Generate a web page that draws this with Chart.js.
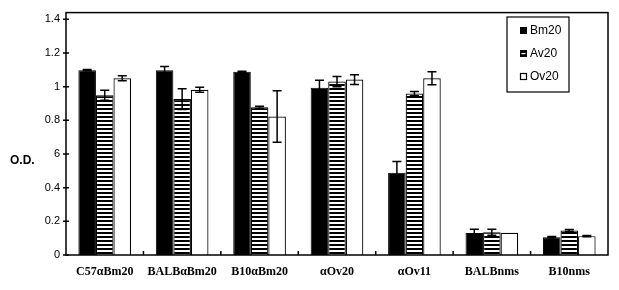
<!DOCTYPE html>
<html>
<head>
<meta charset="utf-8">
<script src="https://cdn.jsdelivr.net/npm/chart.js@4"></script>
<style>
  html, body { margin: 0; padding: 0; background: #fff; }
  #wrap { width: 619px; height: 290px; position: relative; }
</style>
</head>
<body>
<div id="wrap"><canvas id="odChart" width="619" height="290"></canvas></div>
<script>
// groups on the x axis
const groups = ['C57\u03b1Bm20', 'BALB\u03b1Bm20', 'B10\u03b1Bm20', '\u03b1Ov20', '\u03b1Ov11', 'BALBnms', 'B10nms'];

// O.D. means
const bm20 = [1.098, 1.098, 1.088, 0.994, 0.488, 0.130, 0.106];
const av20 = [0.949, 0.926, 0.877, 1.030, 0.959, 0.135, 0.145];
const ov20 = [1.050, 0.982, 0.823, 1.042, 1.050, 0.132, 0.112];

// error bar half-lengths
const errBm20 = [0.004, 0.022, 0.004, 0.044, 0.068, 0.023, 0.004];
const errAv20 = [0.030, 0.062, 0.007, 0.031, 0.013, 0.018, 0.006];
const errOv20 = [0.015, 0.015, 0.153, 0.029, 0.038, 0, 0.004];

// y ticks and their labels as printed (0.6 is only partly visible in the scan)
const yTickValues = [0, 0.2, 0.4, 0.6, 0.8, 1, 1.2, 1.4];
const yTickLabels = ['0', '0.2', '0.4', '6', '0.8', '1', '1.2', '1.4'];

function stripePattern() {
    /*
    horizontal black/white stripes for the Av20 bars
    */
    let c = document.createElement('canvas');
    c.width = 4; c.height = 4;
    let g = c.getContext('2d');
    g.fillStyle = '#fff';
    g.fillRect(0, 0, 4, 4);
    g.fillStyle = '#000';
    g.fillRect(0, 0, 4, 2);
    return g.createPattern(c, 'repeat');
}

const errors = [errBm20, errAv20, errOv20];

const errorBarPlugin = {
    id: 'errorBars',
    afterDatasetsDraw(chart) {
        const ctx = chart.ctx;
        const ys = chart.scales.y;
        ctx.save();
        ctx.strokeStyle = '#000';
        ctx.lineWidth = 1.5;
        chart.data.datasets.forEach((ds, i) => {
            const meta = chart.getDatasetMeta(i);
            meta.data.forEach((bar, j) => {
                const e = errors[i][j];
                if (!e) return;
                const v = ds.data[j];
                const top = ys.getPixelForValue(v + e);
                const bot = ys.getPixelForValue(v - e);
                ctx.beginPath();
                ctx.moveTo(bar.x, top); ctx.lineTo(bar.x, bot);
                ctx.moveTo(bar.x - 4.5, top); ctx.lineTo(bar.x + 4.5, top);
                ctx.moveTo(bar.x - 4.5, bot); ctx.lineTo(bar.x + 4.5, bot);
                ctx.stroke();
            });
        });
        ctx.restore();
    }
};

const framePlugin = {
    id: 'frame',
    afterDraw(chart) {
        /*
        box around plot, tick marks, O.D. label and the legend inside the plot
        */
        const ctx = chart.ctx;
        const a = chart.chartArea;
        const ys = chart.scales.y;
        const xs = chart.scales.x;
        ctx.save();
        ctx.strokeStyle = '#000';
        ctx.lineWidth = 1.5;
        ctx.strokeRect(a.left, a.top, a.right - a.left, a.bottom - a.top);

        // y ticks crossing the axis
        ctx.beginPath();
        yTickValues.forEach(v => {
            const y = ys.getPixelForValue(v);
            ctx.moveTo(a.left - 3, y); ctx.lineTo(a.left + 3, y);
        });
        // x ticks between groups, pointing up
        for (let k = 1; k < groups.length; k++) {
            const x = (xs.getPixelForValue(k - 1) + xs.getPixelForValue(k)) / 2;
            ctx.moveTo(x, a.bottom); ctx.lineTo(x, a.bottom - 4);
        }
        ctx.stroke();

        ctx.fillStyle = '#000';
        ctx.font = 'bold 12px "Liberation Sans", Arial, sans-serif';
        ctx.textBaseline = 'middle';
        ctx.textAlign = 'left';
        ctx.fillText('O.D.', 10, 161);

        // legend box
        ctx.lineWidth = 1.2;
        ctx.strokeRect(507, 17, 62, 75);
        ctx.font = '12px "Liberation Sans", Arial, sans-serif';
        const rowsY = [30, 53, 76];
        chart.data.datasets.forEach((ds, i) => {
            const y = rowsY[i];
            if (i === 0) {
                ctx.fillRect(520, y - 3, 7, 7);
            } else if (i === 1) {
                ctx.fillRect(520, y - 3, 7, 7);
                ctx.fillStyle = '#fff';
                ctx.fillRect(521.5, y, 4, 1.2);
                ctx.fillStyle = '#000';
            } else {
                ctx.lineWidth = 1.2;
                ctx.strokeRect(520.5, y - 2.5, 6, 6);
            }
            ctx.fillText(ds.label, 530, y + 1);
        });
        ctx.restore();
    }
};

function createChart() {
    const datasets = [
        { label: 'Bm20', data: bm20, backgroundColor: '#000', borderColor: '#000', borderWidth: 1 },
        { label: 'Av20', data: av20, backgroundColor: stripePattern(), borderColor: '#000', borderWidth: 1.2 },
        { label: 'Ov20', data: ov20, backgroundColor: '#fff', borderColor: '#000', borderWidth: 1.2 }
    ];

    return new Chart(document.getElementById('odChart').getContext('2d'), {
        type: 'bar',
        data: { labels: groups, datasets: datasets },
        options: {
            responsive: false,
            animation: false,
            layout: { padding: { top: 7, right: 11, left: 0, bottom: 0 } },
            datasets: { bar: { categoryPercentage: 0.68, barPercentage: 1.0 } },
            plugins: {
                legend: { display: false },
                tooltip: { enabled: false }
            },
            scales: {
                x: {
                    grid: { display: false, drawTicks: false },
                    border: { display: false },
                    afterFit: s => { s.height = 35; },
                    ticks: {
                        padding: 10,
                        color: '#000',
                        maxRotation: 0,
                        font: { family: '"Liberation Serif", "Times New Roman", serif', size: 12, weight: 'bold' }
                    }
                },
                y: {
                    min: 0,
                    max: 1.44,
                    grid: { display: false, drawTicks: false },
                    border: { display: false },
                    afterFit: s => { s.width = 66; },
                    afterBuildTicks: s => { s.ticks = yTickValues.map(v => ({ value: v })); },
                    ticks: {
                        padding: 6,
                        color: '#000',
                        font: { family: '"Liberation Sans", Arial, sans-serif', size: 11 },
                        callback: (v, i) => yTickLabels[i]
                    }
                }
            }
        },
        plugins: [errorBarPlugin, framePlugin]
    });
}

createChart();
</script>
</body>
</html>
